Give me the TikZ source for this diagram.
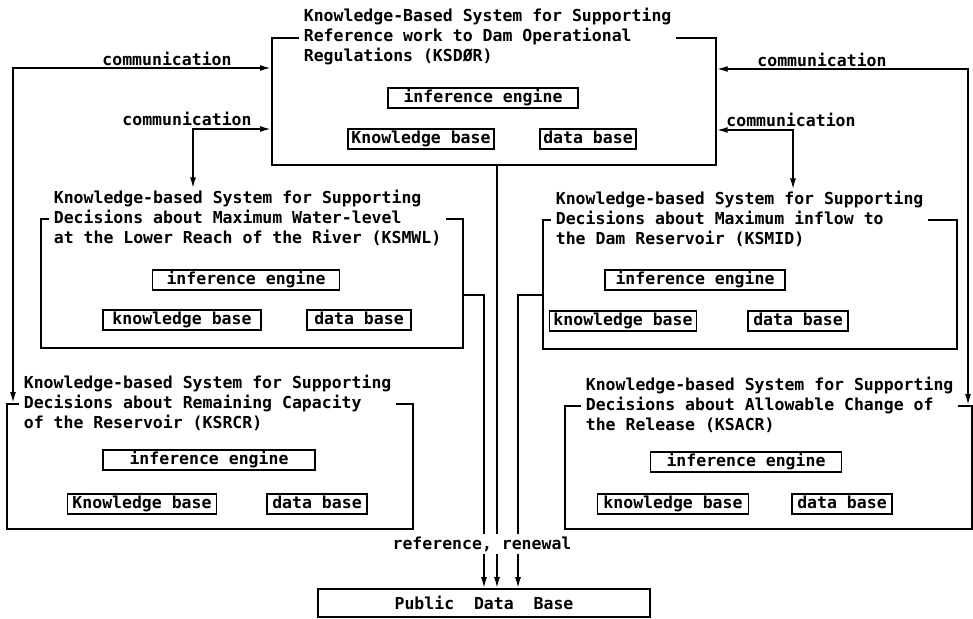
\documentclass[tikz,border=0pt]{standalone}
\usepackage{fontspec}
\setmonofont{DejaVu Sans Mono}
\usetikzlibrary{arrows.meta}

\tikzset{
	frame/.style={draw, inner sep=0pt, anchor=north west},
	title/.style={fill=white, align=left, anchor=west, inner xsep=5pt, inner ysep=1pt},
	part/.style={draw, inner xsep=3pt, inner ysep=2pt, text height=12pt, text depth=3.5pt},
	lbl/.style={inner sep=1pt},
}

\begin{document}
\begin{tikzpicture}[x=1pt, y=-1pt, line width=1.7pt, font=\ttfamily\bfseries\fontsize{16.5}{20}\selectfont, >={Latex[length=11pt,width=6pt]}]

		\useasboundingbox (0,0) rectangle (973,618);

		\node[frame, minimum width=444, minimum height=127] (ksdor) at (271,37) {};
		\node[title] (ksdor-t) at (298,37) {Knowledge-Based System for Supporting\\Reference work to Dam Operational\\Regulations (KSDØR)};
		\node[part, minimum width=190] (ksdor-ie) at (483,98) {inference engine};
		\node[part, minimum width=146] (ksdor-kb) at (421,139) {Knowledge base};
		\node[part, minimum width=93] (ksdor-db) at (588,139) {data base};

		\node[frame, minimum width=422, minimum height=129] (ksmwl) at (40,218) {};
		\node[title] (ksmwl-t) at (48,218) {Knowledge-based System for Supporting\\Decisions about Maximum Water-level\\at the Lower Reach of the River (KSMWL)};
		\node[part, minimum width=187] (ksmwl-ie) at (246,280) {inference engine};
		\node[part, minimum width=158] (ksmwl-kb) at (182,320) {knowledge base};
		\node[part, minimum width=104] (ksmwl-db) at (359,320) {data base};

		\node[frame, minimum width=414, minimum height=129] (ksmid) at (542,219) {};
		\node[title] (ksmid-t) at (550,219) {Knowledge-based System for Supporting\\Decisions about Maximum inflow to\\the Dam Reservoir (KSMID)};
		\node[part, minimum width=180] (ksmid-ie) at (695,280) {inference engine};
		\node[part, minimum width=147] (ksmid-kb) at (623,321) {knowledge base};
		\node[part, minimum width=100] (ksmid-db) at (798,321) {data base};

		\node[frame, minimum width=406, minimum height=125] (ksrcr) at (6,403) {};
		\node[title] (ksrcr-t) at (18,403) {Knowledge-based System for Supporting\\Decisions about Remaining Capacity\\of the Reservoir (KSRCR)};
		\node[part, minimum width=212] (ksrcr-ie) at (209,460) {inference engine};
		\node[part, minimum width=149] (ksrcr-kb) at (142,504) {Knowledge base};
		\node[part, minimum width=100] (ksrcr-db) at (317,504) {data base};

		\node[frame, minimum width=407, minimum height=123] (ksacr) at (564,405) {};
		\node[title] (ksacr-t) at (580,405) {Knowledge-based System for Supporting\\Decisions about Allowable Change of\\the Release (KSACR)};
		\node[part, minimum width=191] (ksacr-ie) at (746,462) {inference engine};
		\node[part, minimum width=151] (ksacr-kb) at (673,504) {knowledge base};
		\node[part, minimum width=100] (ksacr-db) at (842,504) {data base};

		\node[draw, minimum width=332, minimum height=28, inner sep=0pt] (pdb) at (484,603) {Public~~Data~~Base};

		\coordinate (k1) at (13,68);
		\coordinate (k2) at (193,129);
		\coordinate (k3) at (968,69);
		\coordinate (k4) at (793,130);

		\draw[<->] (k1 |- ksrcr.north) -- (k1) -- (k1 -| ksdor.west);
		\draw[<->] (k2 -| ksdor.west) -- (k2) -- (k2 |- ksmwl-t.north);
		\draw[<->] (k3 -| ksdor.east) -- (k3) -- (k3 |- ksacr.north);
		\draw[<->] (k4 -| ksdor.east) -- (k4) -- (k4 |- ksmid-t.north);

		\node[lbl] (c1) at (167,59) {communication};
		\node[lbl] (c2) at (187,119) {communication};
		\node[lbl] (c3) at (822,60) {communication};
		\node[lbl] (c4) at (791,120) {communication};

		\coordinate (j1) at (484,295);
		\coordinate (j2) at (497,164);
		\coordinate (j3) at (518,295);

		\draw[->] (j1 -| ksmwl.east) -- (j1) -- (j1 |- pdb.north);
		\draw[->] (j2 |- ksdor.south) -- (j2 |- pdb.north);
		\draw[->] (j3 -| ksmid.west) -- (j3) -- (j3 |- pdb.north);

		\node[lbl, fill=white, inner ysep=3pt] (rr) at (482,544) {reference, renewal};

\end{tikzpicture}
\end{document}
